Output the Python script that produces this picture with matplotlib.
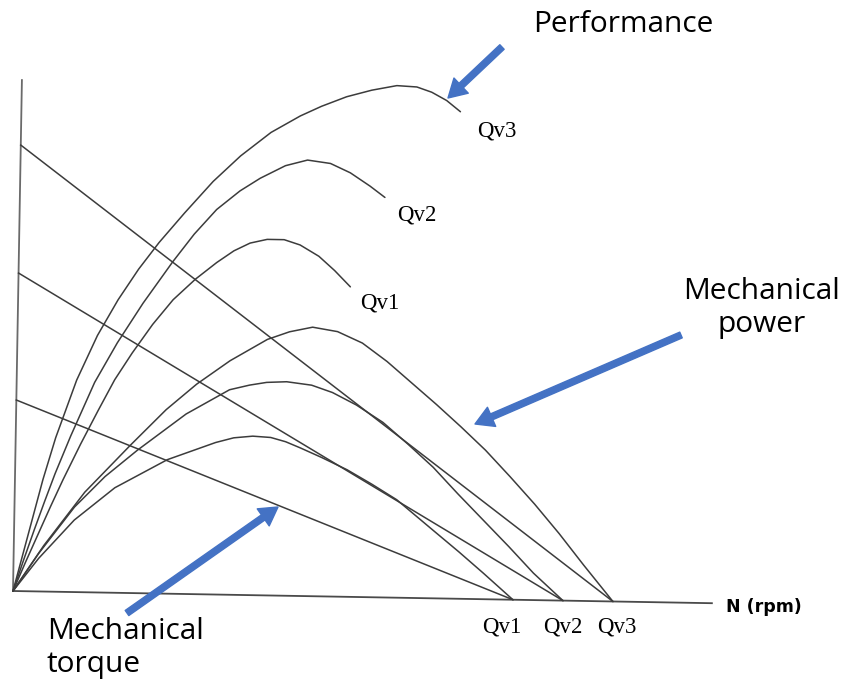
import numpy as np
import matplotlib
matplotlib.use("Agg")
import matplotlib.pyplot as plt
from matplotlib.transforms import Affine2D

# speed N (0 .. axis end) and curve values (arbitrary units)
axis_n_max = 699
axis_v_max = 511

# efficiency ("performance") curves
perf1_n = [0, 12, 24, 36, 48, 65, 82, 98, 115, 135, 155, 177, 198, 215, 231, 248,
           265, 281, 300, 316, 332]
perf1_v = [0, 29, 57, 85, 112, 148, 182, 213, 240, 269, 294, 315, 332, 344, 352, 356,
           356, 351, 340, 326, 310]
perf2_n = [0, 10, 20, 30, 40, 55, 78, 100, 125, 154, 175, 197, 220, 240, 265, 287,
           310, 330, 350, 365]
perf2_v = [0, 31, 61, 90, 118, 156, 210, 250, 290, 332, 360, 385, 404, 417, 430, 436,
           433, 424, 411, 400]
perf3_n = [0, 5, 12, 20, 28, 40, 60, 80, 100, 120, 140, 165, 193, 220, 250, 279,
           300, 325, 350, 375, 395, 410, 425, 439]
perf3_v = [0, 20, 48, 80, 112, 154, 212, 257, 293, 324, 351, 381, 413, 439, 463, 480,
           490, 500, 507, 512, 511, 506, 498, 487]

# mechanical power curves
power1_n = [0, 25, 60, 100, 152, 200, 218, 237, 255, 270, 285, 306, 332, 357, 382,
            419, 445, 470, 500]
power1_v = [0, 33, 72, 105, 134, 152, 157, 159, 158, 154, 148, 139, 127, 113, 98,
            68, 47, 26, 0]
power2_n = [0, 25, 60, 90, 122, 170, 213, 233, 250, 270, 295, 316, 340, 367, 392, 418,
            443, 469, 495, 520, 550]
power2_v = [0, 38, 85, 116, 143, 180, 205, 210, 213, 214, 211, 204, 192, 175, 154, 131,
            105, 79, 53, 27, 0]
power3_n = [0, 30, 70, 115, 150, 180, 213, 250, 272, 295, 320, 345, 370, 395, 420, 445,
            470, 495, 520, 545, 570, 600]
power3_v = [0, 46, 100, 148, 184, 210, 234, 256, 264, 269, 265, 254, 236, 215, 194, 172,
            149, 123, 96, 67, 36, 0]

# mechanical torque lines: value at N=0 and runaway speed
torque_start = [191, 318, 446]
runaway_n = [500, 550, 600]
flow_labels = ["Qv1", "Qv2", "Qv3"]

line_col = "#3c3c3c"
arrow_col = "#4472C4"

fig = plt.figure(figsize=(8.45, 6.82), dpi=100)
ax = fig.add_axes([0, 0, 1, 1])
ax.set_xlim(0, 845)
ax.set_ylim(682, 0)
ax.axis("off")

# the scanned diagram sits about 1 degree rotated, origin near (13, 591)
th = np.deg2rad(1.0)
c, s = np.cos(th), np.sin(th)
chart = Affine2D(np.array([[c, s, 13], [s, -c, 591], [0, 0, 1]])) + ax.transData

# axes
ax.plot([0, axis_n_max], [0, 0], color="#4a4a4a", lw=1.3, transform=chart)
ax.plot([0, 0], [0, axis_v_max], color="#6a6a6a", lw=1.3, transform=chart)

for n, v in [(perf1_n, perf1_v), (perf2_n, perf2_v), (perf3_n, perf3_v),
             (power1_n, power1_v), (power2_n, power2_v), (power3_n, power3_v)]:
    ax.plot(n, v, color=line_col, lw=1.1, transform=chart,
            solid_joinstyle="round", solid_capstyle="round")

for t0, nmax in zip(torque_start, runaway_n):
    ax.plot([0, nmax], [t0, 0], color=line_col, lw=1.1, transform=chart)

# curve labels
serif = "Liberation Serif"
ax.text(360, 303, flow_labels[0], fontfamily=serif, fontsize=16.5, va="center")
ax.text(397, 215, flow_labels[1], fontfamily=serif, fontsize=16.5, va="center")
ax.text(477, 131, flow_labels[2], fontfamily=serif, fontsize=16.5, va="center")
for x, lab in zip([502, 563, 617], flow_labels):
    ax.text(x, 627, lab, fontfamily=serif, fontsize=16.5, ha="center", va="center")

ax.text(726, 607, "N (rpm)", fontfamily="DejaVu Sans", fontweight="bold",
        fontsize=12.5, va="center")

# annotations
sans = "Open Sans"
ax.text(533, 25, "Performance", fontfamily=sans, fontsize=21.5, va="center")
ax.text(762, 308, "Mechanical\npower", fontfamily=sans, fontsize=21.5,
        ha="center", va="center", linespacing=1.15)
ax.text(47, 648, "Mechanical\ntorque", fontfamily=sans, fontsize=21.5,
        ha="left", va="center", linespacing=1.15)

arrow = dict(arrowstyle="simple,head_length=1.3,head_width=1.5,tail_width=0.45",
             color=arrow_col, shrinkA=0, shrinkB=0, mutation_scale=10)
ax.annotate("", xy=(448, 98), xytext=(502, 47), arrowprops=arrow)
ax.annotate("", xy=(475, 424), xytext=(681, 335), arrowprops=arrow)
ax.annotate("", xy=(278, 507), xytext=(127, 613), arrowprops=arrow)

fig.savefig("out.png", dpi=100, facecolor="white")
